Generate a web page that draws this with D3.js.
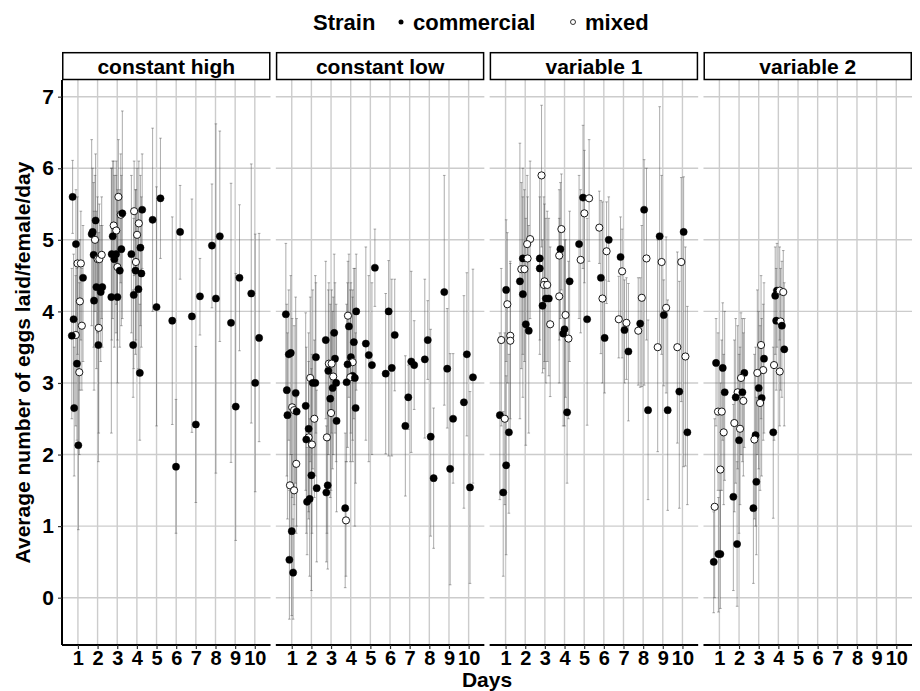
<!DOCTYPE html>
<html><head><meta charset="utf-8">
<script src="https://cdn.jsdelivr.net/npm/d3@7"></script>
<style>body{margin:0;background:#fff}svg{display:block}text{font-family:"Liberation Sans",Arial,sans-serif;font-weight:bold;fill:#000}</style>
</head><body>
<script>
// ---------- data ----------
const facets = ["constant high", "constant low", "variable 1", "variable 2"];
const dayTicks = [1, 2, 3, 4, 5, 6, 7, 8, 9, 10];
const yTicks = [0, 1, 2, 3, 4, 5, 6, 7];
const strains = ["commercial", "mixed"];
// rows: [dodged day, mean, lower, upper, strain (c = commercial, m = mixed)]
const constantHigh = [
 [0.73,5.60,5.09,6.11,"c"],[0.90,4.94,3.9,5.7,"c"],[0.98,4.67,3.4,5.6,"m"],[1.15,4.67,3.6,5.4,"m"],
 [1.26,4.47,3.3,5.2,"c"],[1.10,4.14,2.9,5.0,"m"],[0.78,3.89,2.6,4.8,"c"],[1.20,3.80,2.9,4.6,"m"],
 [0.89,3.67,2.4,4.5,"m"],[0.69,3.66,2.5,4.6,"c"],[0.95,3.27,2.2,4.6,"c"],[1.07,3.15,2.0,4.4,"m"],
 [0.81,2.65,1.7,3.5,"c"],[1.02,2.13,0.95,3.3,"c"],
 [1.70,5.08,3.8,6.4,"c"],[1.75,5.11,4.2,6.0,"c"],[1.90,5.27,4.3,6.2,"c"],[1.87,5.00,4.0,5.9,"m"],
 [1.80,4.79,3.5,5.8,"c"],[2.00,4.73,3.7,5.6,"m"],[2.09,4.73,3.8,5.5,"m"],[2.21,4.79,3.9,5.6,"m"],
 [1.94,4.34,3.2,5.4,"c"],[2.24,4.34,3.5,5.2,"c"],[2.16,4.27,3.3,5.2,"c"],[1.82,4.15,2.9,5.4,"c"],
 [2.06,3.77,2.3,5.1,"m"],[2.04,3.53,1.9,5.0,"c"],
 [3.06,5.60,4.6,6.4,"m"],[3.18,5.35,4.4,6.2,"m"],[3.26,5.37,3.9,6.8,"c"],[2.82,5.20,4.2,6.1,"m"],
 [2.95,5.13,4.1,6.1,"m"],[2.77,5.05,3.9,6.1,"c"],[3.21,4.87,3.8,5.9,"c"],[2.72,4.80,3.6,6.0,"c"],
 [2.94,4.80,3.7,5.9,"c"],[2.85,4.73,3.5,5.9,"c"],[3.01,4.62,3.6,5.7,"m"],[3.13,4.57,3.5,5.7,"c"],
 [2.70,4.20,2.3,6.0,"c"],[3.01,4.20,3.0,5.4,"c"],
 [3.86,5.40,4.5,6.1,"m"],[4.27,5.42,4.6,6.2,"c"],[4.10,5.23,4.3,6.1,"m"],[4.01,5.07,4.0,6.0,"m"],
 [4.18,4.89,3.8,5.9,"c"],[3.72,4.80,3.7,5.9,"c"],[3.95,4.69,3.6,5.7,"m"],[3.93,4.57,3.4,5.7,"c"],
 [4.23,4.53,3.5,5.6,"c"],[4.08,4.31,3.2,5.4,"c"],[3.84,4.23,3.2,5.3,"c"],[3.81,3.53,2.8,4.3,"c"],
 [4.15,3.14,2.2,4.1,"c"],
 [4.80,5.28,4.0,6.56,"c"],[5.00,4.06,2.4,5.74,"c"],[5.20,5.58,4.74,6.42,"c"],
 [5.80,3.87,2.42,5.32,"c"],[6.20,5.11,4.45,5.76,"c"],[5.99,1.83,0.9,2.77,"c"],
 [6.80,3.93,2.31,5.57,"c"],[7.21,4.21,3.67,4.74,"c"],[7.00,2.42,1.33,3.51,"c"],
 [7.82,4.92,4.05,5.78,"c"],[8.22,5.05,3.58,6.52,"c"],[8.02,4.18,1.74,6.62,"c"],
 [8.79,3.84,1.89,5.79,"c"],[9.22,4.47,3.45,5.49,"c"],[9.03,2.67,0.8,4.53,"c"],
 [9.82,4.25,2.44,6.06,"c"],[10.02,3.00,1.48,5.08,"c"],[10.22,3.63,2.18,5.09,"c"]
];
const constantLow = [
 [0.70,3.96,2.9,4.95,"c"],[0.85,3.40,2.2,4.3,"c"],[0.95,3.42,2.0,4.5,"c"],[0.75,2.90,1.7,4.1,"c"],
 [1.20,2.86,1.6,4.2,"c"],[1.02,2.66,1.4,3.9,"m"],[1.12,2.62,1.3,3.8,"m"],[1.25,2.60,1.0,3.9,"c"],
 [0.78,2.55,1.1,3.7,"c"],[1.23,1.87,0.9,2.8,"m"],[0.91,1.57,0.5,2.6,"m"],[1.12,1.50,0.4,2.7,"m"],
 [1.00,0.93,-0.25,2.0,"c"],[0.88,0.53,-0.3,1.5,"c"],[1.07,0.35,-0.3,1.1,"c"],
 [2.23,3.36,2.3,4.4,"c"],[1.94,3.07,1.9,4.2,"m"],[2.07,3.00,1.8,4.3,"c"],[2.20,3.00,1.7,4.5,"c"],
 [1.71,2.68,1.5,3.98,"c"],[2.15,2.50,1.4,3.6,"m"],[1.86,2.36,1.1,3.7,"c"],[1.86,2.24,1.2,3.3,"m"],
 [1.74,2.21,0.9,3.5,"c"],[2.03,2.14,0.9,3.4,"m"],[2.00,1.71,0.1,3.2,"c"],[2.27,1.53,0.5,2.9,"c"],
 [1.91,1.38,0.3,2.5,"c"],[1.78,1.34,0.6,2.1,"c"],
 [2.73,3.60,2.5,4.7,"c"],[3.16,3.70,2.6,4.8,"c"],[3.20,3.34,2.3,4.4,"c"],[2.89,3.27,2.2,4.4,"m"],
 [3.03,3.27,2.3,4.3,"m"],[2.86,3.17,2.0,4.3,"c"],[3.11,3.09,2.0,4.2,"m"],[3.26,3.00,1.9,4.1,"c"],
 [3.08,2.93,1.8,4.0,"c"],[2.96,2.78,1.4,4.1,"c"],[3.00,2.58,1.5,3.7,"m"],[3.28,2.47,1.2,3.7,"c"],
 [2.79,2.24,0.9,3.6,"m"],[2.83,1.57,0.4,2.8,"c"],[2.76,1.47,0.5,2.4,"c"],
 [3.86,3.94,3.0,4.7,"m"],[4.28,4.00,2.9,4.8,"c"],[3.91,3.79,2.8,4.8,"c"],[4.16,3.57,2.5,4.6,"c"],
 [4.01,3.36,2.3,4.4,"c"],[4.10,3.29,2.2,4.3,"m"],[3.84,3.26,2.1,4.4,"c"],[4.10,3.10,1.9,4.2,"c"],
 [3.98,3.08,1.9,4.3,"m"],[4.21,3.07,1.0,4.6,"c"],[3.79,3.01,1.9,4.1,"c"],[4.25,2.65,1.6,3.7,"c"],
 [3.72,1.25,0.14,2.3,"c"],[3.76,1.08,0.3,1.9,"m"],
 [5.23,4.61,4.07,5.15,"c"],[4.77,3.55,2.2,4.9,"c"],[4.92,3.39,1.9,4.5,"c"],[5.08,3.25,2.0,4.4,"c"],
 [5.93,4.00,1.98,4.71,"c"],[5.78,3.13,2.01,4.25,"c"],[6.09,3.21,1.98,4.45,"c"],[6.24,3.67,2.89,4.45,"c"],
 [6.78,2.40,1.42,3.38,"c"],[6.93,2.80,2.35,3.25,"c"],[7.08,3.30,2.03,4.56,"c"],[7.23,3.25,2.63,3.87,"c"],
 [7.77,3.33,2.23,4.45,"c"],[7.92,3.60,3.05,4.15,"c"],[8.07,2.25,0.86,3.75,"c"],[8.22,1.67,0.69,2.65,"c"],
 [8.76,4.27,2.69,5.9,"c"],[8.91,3.20,2.37,4.04,"c"],[9.06,1.80,0.18,3.41,"c"],[9.21,2.50,1.60,3.41,"c"],
 [9.76,2.73,1.25,4.22,"c"],[9.91,3.40,2.26,4.54,"c"],[10.07,1.54,0.20,2.88,"c"],[10.22,3.08,1.6,4.59,"c"]
];
const variable1 = [
 [1.03,4.30,3.3,5.28,"c"],[1.09,4.10,3.0,5.1,"m"],[0.78,3.60,2.4,4.6,"m"],[1.24,3.66,2.5,4.67,"m"],
 [1.24,3.59,2.3,4.7,"m"],[0.71,2.55,1.37,3.7,"c"],[0.96,2.50,1.3,3.7,"m"],[1.17,2.31,1.18,3.4,"c"],
 [1.03,1.85,0.6,3.1,"c"],[0.88,1.47,0.3,2.6,"c"],
 [2.25,5.01,3.9,6.1,"m"],[2.10,4.94,3.8,5.9,"m"],[1.88,4.74,3.4,6.0,"c"],[2.12,4.74,3.7,5.6,"m"],
 [1.80,4.59,3.2,5.8,"m"],[1.96,4.59,3.3,5.7,"m"],[1.73,4.42,2.5,6.35,"c"],[1.88,4.24,2.8,5.6,"c"],
 [2.03,3.82,2.13,5.3,"c"],[2.18,3.73,2.3,5.2,"c"],
 [2.83,5.90,4.9,6.88,"m"],[2.74,4.74,3.6,5.9,"c"],[2.74,4.60,3.4,5.6,"c"],[2.98,4.42,3.3,5.5,"m"],
 [2.95,4.37,3.2,5.6,"m"],[3.12,4.37,3.3,5.4,"m"],[3.05,4.18,3.0,5.3,"c"],[3.20,4.18,3.1,5.3,"c"],
 [2.88,4.08,3.14,5.0,"c"],[3.27,3.82,2.81,4.9,"m"],
 [3.84,5.15,4.3,5.92,"m"],[3.79,4.87,3.9,5.8,"c"],[3.73,4.78,3.6,5.7,"m"],[4.26,4.42,3.3,5.4,"c"],
 [3.73,4.21,3.0,5.3,"m"],[4.05,3.95,2.8,5.0,"m"],[4.00,3.75,2.4,5.0,"c"],[3.93,3.69,2.4,4.9,"c"],
 [4.20,3.62,2.5,4.7,"m"],[4.13,2.59,1.6,3.6,"c"],
 [4.94,5.59,4.6,6.6,"c"],[5.25,5.58,4.7,6.4,"m"],[5.01,5.37,4.4,6.25,"m"],[4.74,4.94,3.9,5.9,"c"],
 [4.82,4.72,3.7,5.7,"m"],[5.15,3.89,2.41,5.3,"c"],
 [5.77,5.17,4.67,5.68,"m"],[6.25,5.00,4.42,5.60,"c"],[6.14,4.84,4.11,5.53,"m"],[5.85,4.47,3.41,5.55,"c"],
 [5.93,4.18,3.0,5.53,"m"],[6.04,3.63,2.86,4.44,"c"],
 [6.85,4.76,3.93,5.32,"c"],[6.93,4.56,3.35,5.15,"m"],[6.76,3.89,3.35,4.49,"m"],[7.15,3.84,3.05,4.47,"m"],
 [7.05,3.74,3.00,4.44,"c"],[7.25,3.44,2.47,4.39,"c"],
 [8.05,5.42,2.97,6.12,"c"],[8.17,4.74,3.6,6.0,"m"],[7.93,4.19,2.95,5.2,"m"],[7.85,3.83,2.94,4.47,"c"],
 [7.75,3.73,2.97,4.47,"m"],[8.25,2.62,1.37,3.88,"c"],
 [8.84,5.05,3.48,6.86,"c"],[8.94,4.69,3.4,5.9,"m"],[9.17,4.05,2.86,5.04,"m"],[9.05,3.95,2.96,4.44,"c"],
 [8.74,3.50,2.04,5.0,"m"],[9.25,2.62,1.22,4.16,"c"],
 [10.06,5.11,1.83,5.88,"c"],[9.94,4.69,2.74,5.87,"m"],[9.74,3.50,2.16,4.83,"m"],[10.15,3.37,1.84,4.9,"m"],
 [9.84,2.88,1.25,4.42,"c"],[10.25,2.31,1.30,4.07,"c"]
];
const variable2 = [
 [0.83,3.28,2.4,3.9,"c"],[1.17,3.21,2.2,4.12,"c"],[1.27,2.87,1.64,4.0,"c"],[0.93,2.60,1.5,3.7,"m"],
 [1.12,2.60,1.5,3.6,"m"],[1.22,2.31,1.3,3.4,"m"],[1.05,1.79,0.6,3.0,"m"],[0.76,1.27,0.0,2.5,"m"],
 [0.95,0.61,-0.2,1.4,"c"],[1.05,0.61,-0.15,1.5,"c"],[0.71,0.50,-0.21,1.2,"c"],
 [2.27,3.14,2.1,3.9,"c"],[2.10,3.07,2.0,3.98,"m"],[1.93,2.87,1.8,3.8,"m"],[2.17,2.87,1.9,3.9,"c"],
 [1.83,2.80,1.6,3.9,"c"],[2.22,2.75,1.7,3.7,"m"],[1.76,2.44,1.2,3.6,"m"],[2.05,2.36,1.3,3.5,"m"],
 [2.00,2.20,0.9,3.4,"c"],[1.71,1.41,0.1,2.7,"c"],[1.90,0.75,-0.12,1.9,"c"],
 [3.12,3.53,2.5,4.5,"m"],[3.27,3.34,2.3,4.4,"c"],[3.23,3.18,2.2,4.1,"m"],[2.93,3.14,2.0,4.3,"m"],
 [3.00,2.93,1.8,4.0,"c"],[3.15,2.79,1.7,3.9,"c"],[3.07,2.72,1.5,3.8,"m"],[2.84,2.27,1.0,3.5,"c"],
 [2.78,2.21,1.1,3.4,"m"],[2.88,1.62,0.6,2.8,"c"],[2.73,1.25,0.2,2.3,"c"],
 [3.84,4.22,3.4,4.9,"c"],[3.93,4.29,3.5,4.95,"c"],[4.07,4.29,3.6,4.9,"m"],[4.25,4.27,3.5,4.85,"m"],
 [3.89,3.87,2.9,4.6,"c"],[4.11,3.86,2.9,4.6,"m"],[4.18,3.80,2.8,4.7,"c"],[4.30,3.47,2.4,4.4,"c"],
 [3.78,3.25,2.2,4.3,"m"],[4.07,3.16,2.4,3.9,"m"],[3.74,2.31,1.11,3.5,"c"]
];
const facetData = [constantHigh, constantLow, variable1, variable2];

// ---------- layout ----------
const W = 920, H = 691;
const plotLeft = 62, plotRight = 912, gap = 5.3;
const panelW = (plotRight - plotLeft - 3 * gap) / 4;
const panelTop = 80, panelBottom = 645, stripTop = 52.7;
const FS = 21;

const svg = d3.select("body").append("svg").attr("width", W).attr("height", H);

const y = d3.scaleLinear().domain([-0.661, 7.233]).range([panelBottom, panelTop]);
const x = d3.scaleLinear().domain([0.19, 10.8]).range([0, panelW]);

facets.forEach((name, i) => {
  const g = svg.append("g").attr("transform", `translate(${plotLeft + i * (panelW + gap)},0)`);
  // grid
  g.selectAll(".gy").data(yTicks).join("line")
    .attr("x1", 0).attr("x2", panelW).attr("y1", d => y(d)).attr("y2", d => y(d))
    .attr("stroke", "#cccccc").attr("stroke-width", 1.4);
  g.selectAll(".gx").data(dayTicks).join("line")
    .attr("x1", d => x(d)).attr("x2", d => x(d)).attr("y1", panelTop).attr("y2", panelBottom)
    .attr("stroke", "#cccccc").attr("stroke-width", 1.4);
  // strip
  g.append("rect").attr("x", 0.75).attr("y", stripTop).attr("width", panelW - 1.5).attr("height", panelTop - stripTop - 0.5)
    .attr("fill", "#fff").attr("stroke", "#000").attr("stroke-width", 1.5);
  g.append("text").attr("x", panelW / 2).attr("y", (stripTop + panelTop) / 2 + 7.5)
    .attr("text-anchor", "middle").attr("font-size", FS).text(name);
  const data = facetData[i];
  // error bars
  const eb = g.append("g").attr("stroke", "#555").attr("stroke-opacity", 0.55).attr("stroke-width", 0.9).attr("fill", "none");
  data.forEach(r => {
    const cx = x(r[0]);
    eb.append("path").attr("d",
      `M${cx},${y(r[3])}V${y(r[2])}M${cx - 1.3},${y(r[3])}H${cx + 1.3}M${cx - 1.3},${y(r[2])}H${cx + 1.3}`);
  });
  // points
  g.append("g").selectAll("circle").data(data).join("circle")
    .attr("cx", r => x(r[0])).attr("cy", r => y(r[1])).attr("r", 3.6)
    .attr("fill", r => r[4] === "c" ? "#000" : "#fff")
    .attr("stroke", "#000").attr("stroke-width", r => r[4] === "c" ? 0.5 : 0.9);
  // x axis
  const xa = g.append("g").attr("transform", `translate(0,${panelBottom})`)
    .call(d3.axisBottom(x).tickValues(dayTicks).tickSize(4).tickPadding(2).tickFormat(d3.format("d")));
  xa.select(".domain").attr("d", `M0,0H${panelW}`).attr("stroke", "#000").attr("stroke-width", 2);
  xa.selectAll(".tick line").attr("stroke", "#333").attr("stroke-width", 1.2);
  xa.selectAll(".tick text").attr("font-size", 20).attr("font-family", "Liberation Sans").attr("font-weight", "bold").attr("fill", "#000");
  if (i === 0) {
    const ya = g.append("g").call(d3.axisLeft(y).tickValues(yTicks).tickSize(4).tickPadding(4).tickFormat(d3.format("d")));
    ya.select(".domain").attr("d", `M0,${panelTop}V${panelBottom}`).attr("stroke", "#000").attr("stroke-width", 2);
    ya.selectAll(".tick line").attr("stroke", "#333").attr("stroke-width", 1.2);
    ya.selectAll(".tick text").attr("font-size", FS).attr("font-family", "Liberation Sans").attr("font-weight", "bold").attr("fill", "#000");
  }
});

// axis titles
svg.append("text").attr("x", (plotLeft + plotRight) / 2).attr("y", 687).attr("text-anchor", "middle")
  .attr("font-size", FS).text("Days");
svg.append("text").attr("transform", `translate(30,${(panelTop + panelBottom) / 2}) rotate(-90)`)
  .attr("text-anchor", "middle").attr("font-size", FS).text("Average number of eggs laid/female/day");

// legend
const lg = svg.append("g");
const ly = 30, LFS = 22;
lg.append("text").attr("x", 313).attr("y", ly).attr("font-size", LFS).text("Strain");
lg.append("circle").attr("cx", 401).attr("cy", 22).attr("r", 2.5).attr("fill", "#000");
lg.append("text").attr("x", 413).attr("y", ly).attr("font-size", LFS).text(strains[0]);
lg.append("circle").attr("cx", 573).attr("cy", 22).attr("r", 2.5).attr("fill", "#fff").attr("stroke", "#000").attr("stroke-width", 0.8);
lg.append("text").attr("x", 585).attr("y", ly).attr("font-size", LFS).text(strains[1]);
</script>
</body></html>
